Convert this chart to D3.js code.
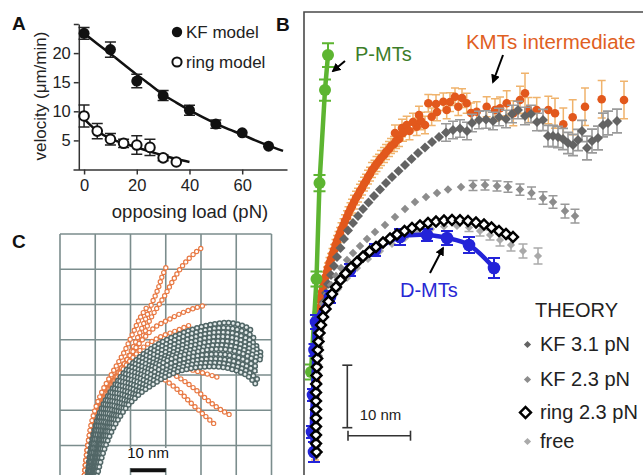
<!DOCTYPE html>
<html><head><meta charset="utf-8">
<script src="https://cdn.jsdelivr.net/npm/d3@7"></script>
<style>
html,body{margin:0;padding:0;background:#fff;}
svg{display:block;font-family:"Liberation Sans",Arial,Helvetica,sans-serif;}
</style></head><body>
<svg id="chart" width="643" height="475"></svg>
<script>
// ================= PANEL A DATA =================
const tickAx = [0, 20, 40, 60];
const tickAy = [5, 10, 15, 20, 25];
const kfLoad = [0, 10, 20, 30, 40, 50, 60, 70];
const kfVel  = [23.4, 20.6, 15.2, 12.7, 10.2, 7.8, 6.3, 4.0];
const kfErr  = [1.0, 1.3, 1.15, 0.86, 0.86, 0.7, 0, 0];
const ringLoad = [0, 5, 10, 15, 20, 25, 30, 35];
const ringVel  = [9.2, 6.6, 5.2, 4.5, 4.2, 3.8, 2.0, 1.3];
const ringErr  = [1.9, 1.3, 1.0, 0.7, 1.6, 1.4, 0.5, 0];
const kfFitLoad = [0,5,10,15,20,25,30,35,40,45,50,55,60,65,70,75.5];
const kfFitVel  = [23.4,21.6,19.9,18.1,16.3,14.6,12.9,11.5,10.2,9.0,7.9,6.9,6.0,5.0,4.1,3.2];
const ringFitLoad = [0,5,10,15,20,25,30,35,40];
const ringFitVel  = [8.7,6.6,5.3,4.5,3.8,3.1,2.4,1.8,1.3];

// ================= PANEL B DATA (nm; [x, y, error]) =================
const pmtPts = [[3.84,67.2,1.9],[3.36,61.6,1.7],[2.48,46.72,1.3],[2.0,31.36,1.2],[1.12,16.48,1.2]];
const dmtPts = [[1.6,3.68,1.6],[1.28,6.88,0.96],[1.44,12.8,0.96],[1.68,20.0,0.96],[1.92,24.48,1.12],[4.16,28.48,0.96],[7.36,32.8,0.96],[11.36,36.0,0.96],[15.36,38.08,1.28],[19.68,38.4,0.96],[22.88,37.92,1.12],[26.4,36.8,1.28],[30.4,33.12,1.6]];
const ringPts = [[2.0,3.68],[1.92,5.04],[1.92,6.4],[1.92,7.76],[1.92,9.12],[1.92,10.48],[1.92,11.84],[1.92,13.2],[1.95,14.56],[2.0,15.92],[2.05,17.28],[2.11,18.64],[2.21,20.0],[2.32,21.36],[2.48,22.72],[2.72,24.0],[3.04,25.28],[3.44,26.56],[3.92,27.76],[4.48,28.96],[5.12,30.08],[5.84,31.2],[6.64,32.24],[7.52,33.2],[8.48,34.08],[9.44,34.96],[10.48,35.76],[11.52,36.48],[12.64,37.2],[13.76,37.84],[14.88,38.48],[16.08,39.04],[17.28,39.52],[18.56,39.92],[19.84,40.32],[21.12,40.56],[22.4,40.72],[23.68,40.8],[24.96,40.77],[26.24,40.64],[27.52,40.4],[28.8,40.08],[30.0,39.6],[31.2,39.04],[32.32,38.56],[33.44,38.08]];
const kf23Pts = [[2.56,25.76,0],[3.04,27.36,0],[3.68,28.96,0],[4.32,30.4,0],[5.12,31.84,0],[5.92,33.12,0],[6.88,34.4,0],[7.84,35.52,0],[8.96,36.64,0],[10.08,37.76,0],[11.36,38.88,0],[12.96,40.0,0],[14.56,41.28,0],[16.16,42.56,0],[17.76,43.68,0],[19.52,44.48,0],[21.28,45.12,0],[23.04,45.68,0],[25.12,46.08,0],[27.04,46.32,0.8],[28.96,46.4,0.8],[30.88,46.24,0.8],[32.64,46.08,0.85],[34.56,45.68,0.9],[36.4,45.12,0.95],[38.24,44.32,1.0],[39.84,43.68,1.0],[41.76,42.24,1.1],[43.36,41.44,1.1]];
const freePts = [[2.08,4.0,0],[2.08,7.2,0],[2.08,10.4,0],[2.08,13.6,0],[2.16,16.8,0],[2.24,20.0,0],[2.56,22.88,0],[3.2,25.44,0],[4.16,27.68,0],[5.44,29.76,0],[6.88,31.52,0],[8.48,33.12,0],[10.24,34.56,0],[12.16,35.84,0],[14.08,36.96,0],[16.16,37.92,0],[18.24,38.72,0],[20.32,39.36,0],[22.4,39.76,0],[24.48,39.84,0],[26.4,39.6,0.64],[28.16,39.04,0.8],[29.76,38.4,0.8],[31.36,37.6,0.96],[33.12,36.8,0.96],[35.04,35.84,1.12],[37.44,35.04,1.28]];
const kf31Pts = [[1.92,3.2,0],[1.92,4.64,0],[1.92,6.08,0],[1.92,7.52,0],[1.92,8.96,0],[1.92,10.4,0],[2.0,11.84,0],[2.0,13.28,0],[2.08,14.72,0],[2.08,16.16,0],[2.16,17.6,0],[2.24,19.04,0],[2.32,20.48,0],[2.4,21.92,0],[2.56,23.36,0],[2.72,24.8,0],[2.96,26.24,0],[3.2,27.68,0],[3.52,29.12,0],[3.84,30.56,0],[4.32,32.0,0],[4.8,33.44,0],[5.28,34.88,0],[5.84,36.32,0],[6.4,37.76,0],[7.04,39.12,0],[7.84,40.32,0],[8.64,41.44,0],[9.44,42.56,0],[10.32,43.6,0],[11.2,44.64,0],[12.16,45.68,0],[13.12,46.72,0],[14.08,47.68,0],[15.12,48.64,0],[16.16,49.6,0],[17.2,50.56,0],[18.24,51.52,0],[19.36,52.4,0],[20.48,53.28,0],[21.6,54.08,0],[22.72,54.8,1.4],[23.84,55.2,1.4],[24.96,55.44,1.4],[26.08,55.04,1.4],[26.88,56.32,1.4],[28.0,56.8,1.4],[29.12,56.88,1.4],[30.24,56.64,1.4],[31.2,57.28,1.4],[32.32,56.96,1.4],[33.28,57.76,1.4],[34.24,58.4,1.4],[35.36,57.44,1.4],[36.32,57.76,1.4],[37.28,56.48,1.4],[38.24,56.8,1.7],[39.04,54.24,1.7],[39.84,54.24,1.7],[40.64,54.08,1.7],[41.44,53.76,1.7],[42.24,53.12,1.7],[43.04,52.8,1.7],[43.84,53.6,1.7],[44.48,55.04,1.7],[45.28,52.32,1.9],[46.08,53.44,1.9],[47.04,53.92,1.9],[47.84,56.0,1.9],[48.64,56.32,1.9],[50.08,56.64,1.9]];
const kmtPts = [[1.76,3.2,0.8],[1.76,5.6,0.8],[1.76,8.0,0.8],[1.76,10.4,0.8],[1.84,12.8,0.8],[1.92,15.2,0.8],[1.92,17.6,0.8],[2.0,20.0,0.8],[2.08,22.4,0.8],[2.24,24.8,0.8],[2.4,26.72,0.8],[2.72,28.48,0.8],[3.04,30.08,0.8],[3.44,31.68,0.8],[3.84,33.12,0.8],[4.32,34.56,0.9],[4.8,36.0,0.9],[5.28,37.44,0.9],[5.76,38.72,0.9],[6.32,40.0,1.0],[6.88,41.28,1.0],[7.44,42.56,1.0],[8.0,43.68,1.1],[8.64,44.8,1.1],[9.28,45.92,1.1],[9.92,47.04,1.1],[10.56,48.16,1.1],[11.28,49.28,1.1],[12.0,50.24,1.1],[12.8,51.2,1.2],[13.6,52.16,1.2],[14.4,52.96,1.2],[15.2,53.76,1.2],[15.68,55.52,1.4],[16.43,56.0,1.4],[16.88,55.04,1.4],[18.03,55.73,1.4],[18.72,56.64,1.4],[19.89,59.47,1.4],[20.43,57.33,1.4],[21.28,58.08,1.4],[22.29,59.73,1.4],[22.83,58.4,1.4],[24.16,60.53,1.4],[24.69,58.93,1.4],[26.03,59.47,1.6],[26.72,57.92,1.6],[27.63,58.13,1.6],[29.23,58.93,1.6],[30.56,58.4,1.8],[31.36,58.67,1.8],[32.43,59.47,2.0],[33.49,57.87,2.0],[34.56,60.0,2.2],[35.36,61.07,3.2],[35.89,58.4,2.0],[37.23,58.4,2.0],[39.09,58.4,2.2],[40.16,57.87,2.4],[41.49,56.11,2.6],[42.99,57.23,2.8],[44.96,58.93,3.0],[47.63,60.11,3.0],[51.2,60.0,3.0],
  [2.08,26.08,0.8],[2.56,28.0,0.8],[2.88,29.28,0.8],[3.2,30.88,0.8],[3.68,32.48,0.8],[4.08,33.92,0.9],[4.56,35.36,0.9],[5.04,36.8,0.9],[5.52,38.08,0.9],[6.0,39.36,1.0],[6.56,40.64,1.0],[7.12,41.92,1.0],[7.68,43.04,1.1],[8.32,44.32,1.1],[8.96,45.44,1.1],[9.6,46.56,1.1],[10.24,47.68,1.1],[10.88,48.8,1.2],[11.6,49.76,1.2],[12.32,50.72,1.2],[13.12,51.68,1.2],[13.92,52.64,1.2],[14.72,53.44,1.2],[14.56,54.72,1.3],[15.84,54.72,1.3],[17.44,56.48,1.4],[18.4,57.6,1.4],[19.36,56.0,1.4],[21.12,59.36,1.5],[23.36,59.68,1.5],[25.28,60.32,1.5]];

// ================= PANEL C DATA (nm) =================
const gridCx = [0, 10, 20, 30, 40, 50, 60];
const gridCy = [10, 20, 30, 40, 50, 60, 70];
const tealChains = [
  [[7.7,0.2],[9.1,11.6],[11.6,20.1],[15.6,27.2],[20.7,33.4],[27.0,38.2],[34.0,41.6],[41.1,43.9],[47.7,44.8],[52.8,43.6],[54.8,42.2]],
  [[7.9,0.2],[9.3,11.3],[12.0,19.8],[16.0,26.8],[21.2,32.9],[27.7,37.5],[34.7,40.8],[41.8,42.9],[48.2,43.3],[53.3,41.8],[55.5,40.0]],
  [[8.2,0.2],[9.6,11.0],[12.5,19.5],[16.5,26.3],[21.8,32.3],[28.4,36.8],[35.5,39.9],[42.6,41.9],[48.8,41.9],[53.9,39.9],[56.2,37.7]],
  [[8.5,0.2],[10.0,10.7],[12.9,19.1],[17.0,25.9],[22.4,31.7],[29.1,36.1],[36.2,39.0],[43.3,40.8],[49.5,40.5],[54.6,38.2],[57.0,36.3]],
  [[8.8,0.2],[10.5,10.4],[13.3,18.7],[17.6,25.5],[23.0,31.1],[29.8,35.4],[36.9,38.2],[44.0,39.6],[50.2,39.1],[55.3,36.5],[57.6,34.8]],
  [[8.9,0.2],[10.8,10.1],[13.7,18.2],[18.0,24.9],[23.5,30.5],[30.3,34.8],[37.6,37.3],[44.7,38.5],[50.9,37.6],[55.8,35.0],[57.2,34.0]],
  [[9.1,0.2],[11.1,9.9],[14.2,17.8],[18.4,24.3],[24.1,30.0],[30.9,34.3],[38.3,36.5],[45.4,37.4],[51.6,36.2],[56.2,33.4]],
  [[9.3,0.2],[11.3,9.6],[14.6,17.5],[19.0,23.9],[24.6,29.3],[31.5,33.3],[38.7,35.4],[45.8,35.9],[51.9,34.5],[56.2,32.0]],
  [[9.6,0.2],[11.6,9.3],[15.0,17.2],[19.6,23.5],[25.2,28.6],[32.1,32.3],[39.2,34.3],[46.2,34.5],[52.2,32.9],[56.2,30.6]],
  [[9.9,0.2],[12.0,9.0],[15.4,16.8],[20.0,23.0],[25.8,28.0],[32.6,31.6],[39.7,33.3],[46.8,33.2],[52.7,31.3],[56.0,28.8]],
  [[10.2,0.2],[12.5,8.7],[15.9,16.4],[20.4,22.6],[26.4,27.4],[33.2,30.9],[40.3,32.3],[47.4,32.0],[53.3,29.7],[55.9,26.9]]
];
const orangeChains = [
  [[6.8,0.2],[7.7,8.7],[9.4,17.2],[12.2,24.3],[15.9,30.0],[19.9,35.1],[23.3,40.5],[25.5,45.6],[27.5,49.0],[29.8,52.7],[32.1,56.9],[34.9,61.2],[38.6,64.9],[40.6,66.3]],
  [[6.8,0.2],[7.7,8.7],[9.4,17.2],[12.2,24.3],[15.9,30.0],[19.3,35.1],[22.1,40.8],[24.4,46.2],[26.1,50.4],[27.8,54.4],[28.9,57.8],[30.1,60.6]],
  [[7.1,0.2],[7.9,8.7],[9.6,17.2],[12.5,24.3],[16.2,30.0],[19.9,35.6],[23.3,39.9],[27.0,43.6],[30.6,45.6],[34.6,47.6],[38.3,49.0],[41.7,49.9]],
  [[7.1,0.2],[7.9,8.7],[9.6,17.2],[12.5,24.0],[16.2,29.4],[20.1,34.3],[24.1,38.2],[28.4,40.8],[32.6,42.4],[36.9,44.2]],
  [[7.1,0.2],[7.9,8.7],[9.9,17.0],[12.8,23.8],[16.7,29.1],[21.0,32.8],[25.5,34.8],[29.8,35.6],[34.0,37.1],[36.3,37.9]],
  [[7.4,0.2],[8.2,8.7],[10.2,16.7],[13.1,23.2],[17.0,28.0],[21.3,31.4],[25.5,32.6],[29.8,31.4],[34.0,29.1],[38.3,26.0],[42.6,22.3],[46.0,19.9],[48.2,18.7]],
  [[7.4,0.2],[8.2,8.7],[10.2,16.7],[13.3,22.9],[17.3,27.4],[21.8,30.3],[26.1,30.9],[29.8,28.6],[33.5,25.7],[36.9,22.3],[40.6,18.9],[44.0,15.9]],
  [[7.4,0.2],[8.5,8.7],[10.5,16.4],[13.6,22.6],[17.6,26.9],[22.1,29.7],[27.0,32.3],[31.8,32.6],[36.3,31.7],[40.6,30.6],[44.5,29.4]],
  [[7.1,0.2],[8.2,8.7],[9.9,17.0],[13.1,23.5],[17.0,28.9],[21.6,32.3],[26.1,33.7],[30.6,34.3],[34.9,34.3],[38.9,33.7]],
  [[6.8,0.2],[7.7,8.7],[9.1,17.2],[11.6,24.6],[15.0,30.9],[18.2,36.5],[20.7,41.9],[22.7,46.2],[24.7,49.3]]
];

// ================= DRAWING =================
const svg = d3.select("#chart");
const FS = '"Liberation Sans", Arial, Helvetica, sans-serif';
const defs = svg.append("defs");
defs.append("marker").attr("id","arrow").attr("viewBox","0 0 10 10").attr("refX",8).attr("refY",5)
  .attr("markerWidth",4.5).attr("markerHeight",4.5).attr("orient","auto")
  .append("path").attr("d","M0,0L10,5L0,10z").attr("fill","#000");

function errBars(g, pts, xs, ys, color, cap, w) {
  g.append("g").selectAll("path").data(pts.filter(p => p[2] > 0)).join("path")
    .attr("d", p => {
      const x = xs(p[0]), y1 = ys(p[1] - p[2]), y2 = ys(p[1] + p[2]);
      return `M${x},${y1}V${y2}M${x-cap},${y1}H${x+cap}M${x-cap},${y2}H${x+cap}`;
    })
    .attr("stroke", color).attr("stroke-width", w).attr("fill", "none");
}

// ---------- Panel A ----------
const xA = d3.scaleLinear().domain([-4.2, 77]).range([73, 287]);
const yA = d3.scaleLinear().domain([0, 25]).range([169.5, 24]);
const gA = svg.append("g");
const axX = gA.append("g").attr("transform", `translate(0,${yA(0)})`)
  .call(d3.axisBottom(xA).tickValues(tickAx).tickSize(5).tickSizeOuter(0).tickPadding(5));
const axY = gA.append("g").attr("transform", `translate(${xA(-2)},0)`)
  .call(d3.axisLeft(yA).tickValues(tickAy).tickSize(5).tickSizeOuter(0).tickPadding(3)
    .tickFormat(d => d === 25 ? "" : d));
[axX, axY].forEach(ax => {
  ax.select(".domain").attr("stroke", "#333").attr("stroke-width", 1.5);
  ax.selectAll(".tick line").attr("stroke", "#333").attr("stroke-width", 1.5);
  ax.selectAll(".tick text").attr("font-size", 16.5).attr("font-family", FS).attr("fill", "#222");
});
gA.append("text").attr("x", 190).attr("y", 218).attr("text-anchor", "middle")
  .attr("font-size", 18.5).attr("fill", "#222").text("opposing load (pN)");
gA.append("text").attr("transform", "translate(46,96) rotate(-90)").attr("text-anchor", "middle")
  .attr("font-size", 17).attr("fill", "#222").text("velocity (μm/min)");

const lineA = d3.line().x(d => xA(d[0])).y(d => yA(d[1])).curve(d3.curveMonotoneX);
gA.append("path").attr("d", lineA(kfFitLoad.map((l, i) => [l, kfFitVel[i]])))
  .attr("fill", "none").attr("stroke", "#111").attr("stroke-width", 2.5);
gA.append("path").attr("d", lineA(ringFitLoad.map((l, i) => [l, ringFitVel[i]])))
  .attr("fill", "none").attr("stroke", "#111").attr("stroke-width", 2.5);
const kfA = kfLoad.map((l, i) => [l, kfVel[i], kfErr[i]]);
const ringA = ringLoad.map((l, i) => [l, ringVel[i], ringErr[i]]);
errBars(gA, kfA, xA, yA, "#222", 5.5, 1.5);
errBars(gA, ringA, xA, yA, "#222", 5.5, 1.5);
gA.append("g").selectAll("circle").data(kfA).join("circle")
  .attr("cx", d => xA(d[0])).attr("cy", d => yA(d[1])).attr("r", 5.5).attr("fill", "#111");
gA.append("g").selectAll("circle").data(ringA).join("circle")
  .attr("cx", d => xA(d[0])).attr("cy", d => yA(d[1])).attr("r", 4.8)
  .attr("fill", "#fff").attr("stroke", "#111").attr("stroke-width", 2);
// legend A
gA.append("circle").attr("cx", 177).attr("cy", 32).attr("r", 5.2).attr("fill", "#111");
gA.append("text").attr("x", 186).attr("y", 38).attr("font-size", 17).attr("fill", "#222").text("KF model");
gA.append("circle").attr("cx", 177).attr("cy", 62).attr("r", 4.6).attr("fill", "#fff").attr("stroke", "#111").attr("stroke-width", 2);
gA.append("text").attr("x", 186).attr("y", 68).attr("font-size", 17).attr("fill", "#222").text("ring model");

// panel letters
[["A", 12, 30], ["B", 276, 31], ["C", 12, 248]].forEach(([t, x, y]) =>
  svg.append("text").attr("x", x).attr("y", y).attr("font-size", 19).attr("font-weight", "bold")
    .attr("fill", "#111").text(t));

// ---------- Panel C ----------
const xC = d3.scaleLinear().domain([0, 60]).range([60, 271.5]);
const yC = d3.scaleLinear().domain([0, 70]).range([480.75, 234]);
const gC = svg.append("g");
gC.append("g").selectAll("line").data(gridCx).join("line")
  .attr("x1", d => xC(d)).attr("x2", d => xC(d)).attr("y1", yC(70)).attr("y2", yC(0))
  .attr("stroke", "#7b8d8d").attr("stroke-width", 1.6);
gC.append("g").selectAll("line").data(gridCy).join("line")
  .attr("y1", d => yC(d)).attr("y2", d => yC(d)).attr("x1", xC(0)).attr("x2", xC(60))
  .attr("stroke", "#7b8d8d").attr("stroke-width", 1.6);
const lineC = d3.line().x(d => xC(d[0])).y(d => yC(d[1])).curve(d3.curveCatmullRom.alpha(0.5));
function chain(g, pts, color, dia, inner, gap, fill) {
  const p = lineC(pts);
  g.append("path").attr("d", p).attr("fill", "none").attr("stroke", color).attr("stroke-width", 0.8);
  g.append("path").attr("d", p).attr("fill", "none").attr("stroke", color).attr("stroke-width", dia)
    .attr("stroke-linecap", "round").attr("stroke-dasharray", `0 ${gap}`);
  g.append("path").attr("d", p).attr("fill", "none").attr("stroke", fill).attr("stroke-width", inner)
    .attr("stroke-linecap", "round").attr("stroke-dasharray", `0 ${gap}`);
}
orangeChains.forEach(c => chain(gC, c, "#e87a45", 5.4, 3.0, 5, "#fff"));
tealChains.forEach(c => chain(gC, c, "#526767", 6.0, 3.0, 4.6, "#e4ebeb"));
gC.append("rect").attr("x", xC(17.4)).attr("y", yC(9.3)).attr("width", 48).attr("height", 20).attr("fill", "#fff");
gC.append("text").attr("x", xC(25)).attr("y", yC(6.4)).attr("text-anchor", "middle")
  .attr("font-size", 15).attr("fill", "#111").text("10 nm");
gC.append("line").attr("x1", xC(20)).attr("x2", xC(30)).attr("y1", yC(3)).attr("y2", yC(3))
  .attr("stroke", "#111").attr("stroke-width", 4);

// ---------- Panel B ----------
const xB = d3.scaleLinear().domain([0, 54.24]).range([304, 643]);
const yB = d3.scaleLinear().domain([0, 74.08]).range([475, 12]);
const gB = svg.append("g");
gB.append("path").attr("d", `M${xB(0)},${yB(0)}V${yB(74.08)}H${xB(54.24)}`)
  .attr("fill", "none").attr("stroke", "#4a4a4a").attr("stroke-width", 1.6);
const sq = (size) => d3.symbol(d3.symbolSquare, size)();
function diamonds(g, pts, color, size, stroke) {
  g.append("g").selectAll("path").data(pts).join("path")
    .attr("d", sq(size))
    .attr("transform", d => `translate(${xB(d[0])},${yB(d[1])}) rotate(45)`)
    .attr("fill", stroke ? "#fff" : color)
    .attr("stroke", stroke ? color : "none").attr("stroke-width", stroke || 0);
}
// KMTs intermediate
errBars(gB, kmtPts, xB, yB, "#f0b36c", 4, 1.5);
gB.append("g").selectAll("circle").data(kmtPts).join("circle")
  .attr("cx", d => xB(d[0])).attr("cy", d => yB(d[1])).attr("r", 4.3).attr("fill", "#e2581c");
// KF 3.1
errBars(gB, kf31Pts, xB, yB, "#9a9a9a", 5, 1.6);
diamonds(gB, kf31Pts, "#636363", 50);
// KF 2.3
errBars(gB, kf23Pts, xB, yB, "#999", 4.5, 1.5);
diamonds(gB, kf23Pts, "#8c8c8c", 36);
// free
errBars(gB, freePts, xB, yB, "#aaa", 4.5, 1.5);
diamonds(gB, freePts, "#a9a9a9", 34);
// P-MTs
const lineB = d3.line().x(d => xB(d[0])).y(d => yB(d[1]));
gB.append("path").attr("d", lineB(pmtPts)).attr("fill", "none").attr("stroke", "#5db531").attr("stroke-width", 4.5);
errBars(gB, pmtPts, xB, yB, "#5db531", 6, 2);
gB.append("g").selectAll("circle").data(pmtPts).join("circle")
  .attr("cx", d => xB(d[0])).attr("cy", d => yB(d[1])).attr("r", 6).attr("fill", "#5db531");
// D-MTs
gB.append("path").attr("d", lineB.curve(d3.curveCatmullRom)(dmtPts)).attr("fill", "none").attr("stroke", "#2323d8").attr("stroke-width", 4.5);
errBars(gB, dmtPts, xB, yB, "#2323d8", 6, 2);
gB.append("g").selectAll("circle").data(dmtPts).join("circle")
  .attr("cx", d => xB(d[0])).attr("cy", d => yB(d[1])).attr("r", 6.3).attr("fill", "#2323d8");
// ring 2.3
diamonds(gB, ringPts, "#000", 50, 2.4);

// labels & arrows
function arrow(x1, y1, x2, y2) {
  gB.append("line").attr("x1", xB(x1)).attr("y1", yB(y1)).attr("x2", xB(x2)).attr("y2", yB(y2))
    .attr("stroke", "#000").attr("stroke-width", 2).attr("marker-end", "url(#arrow)");
}
arrow(6.56, 66.24, 4.64, 64.64);
arrow(31.84, 67.2, 30.24, 62.88);
arrow(20.16, 32.32, 22.24, 36.32);
gB.append("text").attr("x", xB(8.16)).attr("y", yB(66.24)).attr("font-size", 20).attr("fill", "#3d7d29").text("P-MTs");
gB.append("text").attr("x", xB(25.9)).attr("y", yB(68.16)).attr("font-size", 20.5).attr("fill", "#e0601f").text("KMTs intermediate");
gB.append("text").attr("x", xB(15.36)).attr("y", yB(28.48)).attr("font-size", 20).attr("fill", "#2828d4").text("D-MTs");

// scale bar B
const sb = gB.append("g").attr("stroke", "#333").attr("stroke-width", 1.6);
sb.append("line").attr("x1", xB(6.93)).attr("x2", xB(6.93)).attr("y1", yB(7.57)).attr("y2", yB(17.57));
sb.append("line").attr("x1", xB(6.93) - 5).attr("x2", xB(6.93) + 5).attr("y1", yB(17.57)).attr("y2", yB(17.57));
sb.append("line").attr("x1", xB(6.93) - 5).attr("x2", xB(6.93) + 5).attr("y1", yB(7.57)).attr("y2", yB(7.57));
sb.append("line").attr("x1", xB(7.04)).attr("x2", xB(17.04)).attr("y1", yB(6.29)).attr("y2", yB(6.29));
sb.append("line").attr("x1", xB(7.04)).attr("x2", xB(7.04)).attr("y1", yB(6.29) - 5).attr("y2", yB(6.29) + 5);
sb.append("line").attr("x1", xB(17.04)).attr("x2", xB(17.04)).attr("y1", yB(6.29) - 5).attr("y2", yB(6.29) + 5);
gB.append("text").attr("x", xB(8.9)).attr("y", yB(8.8)).attr("font-size", 15).attr("fill", "#222").text("10 nm");

// legend B
const legB = [
  { label: "KF 3.1 pN", color: "#636363", size: 26, stroke: 0, y: 351 },
  { label: "KF 2.3 pN", color: "#8c8c8c", size: 26, stroke: 0, y: 386 },
  { label: "ring 2.3 pN", color: "#000", size: 60, stroke: 2.4, y: 419 },
  { label: "free", color: "#aaaaaa", size: 26, stroke: 0, y: 448 }
];
gB.append("text").attr("x", 535).attr("y", 317).attr("font-size", 20).attr("fill", "#222").text("THEORY");
const lg = gB.append("g").selectAll("g").data(legB).join("g");
lg.append("path").attr("d", d => sq(d.size))
  .attr("transform", d => `translate(${d.stroke ? 525.5 : 527.5},${d.y - 6.5}) rotate(45)`)
  .attr("fill", d => d.stroke ? "#fff" : d.color).attr("stroke", d => d.stroke ? d.color : "none")
  .attr("stroke-width", d => d.stroke);
lg.append("text").attr("x", 540).attr("y", d => d.y).attr("font-size", 20).attr("fill", "#222").text(d => d.label);
</script>
</body></html>
